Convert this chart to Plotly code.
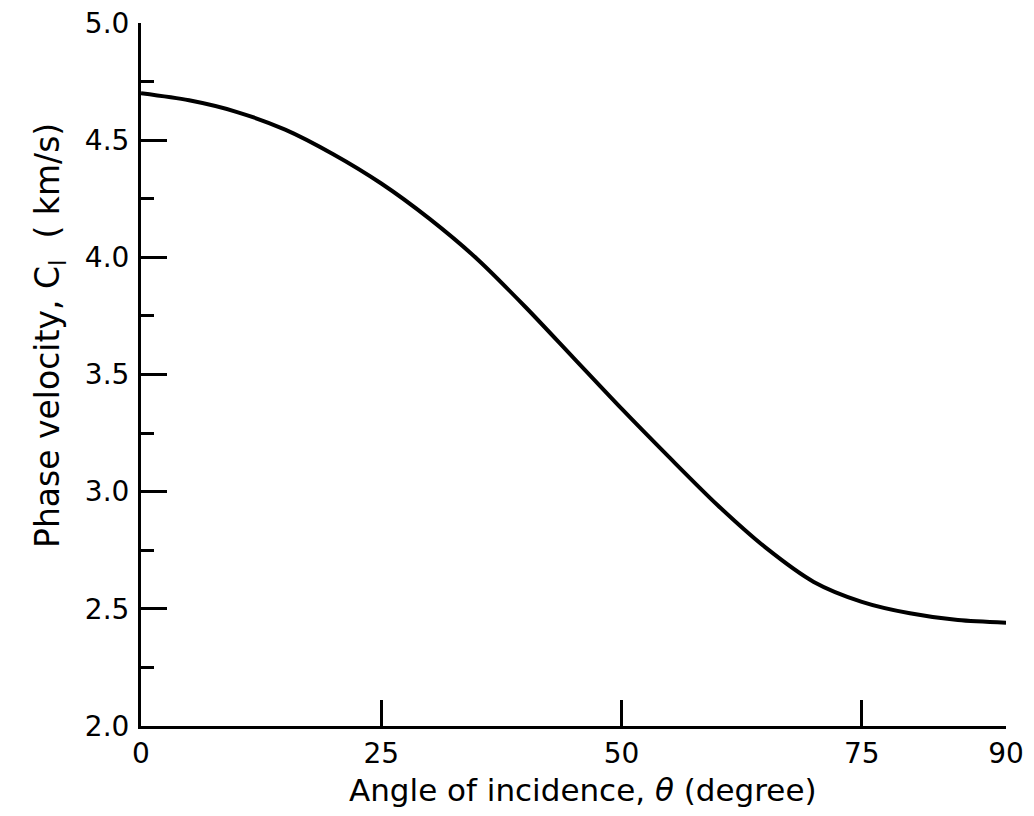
import plotly.graph_objects as go

# angle of incidence (degree) and phase velocity C_l (km/s)
theta = [0, 5, 10, 15, 20, 25, 30, 35, 40, 45, 50, 55, 60, 65, 70, 75, 80, 85, 90]
phase_velocity = [4.70, 4.67, 4.62, 4.545, 4.44, 4.315, 4.165, 3.992, 3.788, 3.571,
                  3.354, 3.145, 2.942, 2.761, 2.615, 2.530, 2.481, 2.452, 2.441]

x_ticks = [0, 25, 50, 75, 90]
y_ticks = [2.0, 2.5, 3.0, 3.5, 4.0, 4.5, 5.0]
y_minor = [2.25, 2.75, 3.25, 3.75, 4.25, 4.75]

font = "DejaVu Sans"

fig = go.Figure()
fig.add_trace(
    go.Scatter(
        x=theta,
        y=phase_velocity,
        mode="lines",
        line=dict(color="black", width=4, shape="spline", smoothing=0.8),
        showlegend=False,
    )
)

axis_style = dict(
    ticks="inside",
    ticklen=26,
    tickwidth=3,
    tickcolor="black",
    showline=True,
    linecolor="black",
    linewidth=3,
    showgrid=False,
    zeroline=False,
    automargin=False,
    ticklabeloverflow="allow",
    tickfont=dict(size=28),
)

# the page adds an 8px body margin, so the figure is a bit smaller than the window
fig.update_layout(
    width=1018,
    height=800,
    margin=dict(l=133, r=20, t=15, b=82),
    plot_bgcolor="white",
    paper_bgcolor="white",
    font=dict(family=font, size=28, color="black"),
    xaxis=dict(
        range=[0, 90],
        tickvals=x_ticks,
        ticktext=[str(v) for v in x_ticks],
        ticklabelstandoff=0,
        **axis_style,
    ),
    yaxis=dict(
        range=[2.0, 5.0],
        tickvals=y_ticks,
        ticktext=["%.1f" % v for v in y_ticks],
        ticklabelstandoff=3,
        minor=dict(tickvals=y_minor, ticks="inside", ticklen=13, tickwidth=3,
                   tickcolor="black"),
        **axis_style,
    ),
)

# axis titles
fig.add_annotation(
    text="Angle of incidence, <i>θ</i> (degree)",
    xref="paper", yref="paper", x=0.511, y=-0.0917,
    xanchor="center", yanchor="middle", showarrow=False,
    font=dict(size=31),
)
fig.add_annotation(
    text="Phase velocity, C<sub>l</sub>  ( km/s)",
    xref="paper", yref="paper", x=-0.105, y=0.555,
    xanchor="center", yanchor="middle", showarrow=False, textangle=-90,
    font=dict(size=33),
)

fig.write_html("out.html")
